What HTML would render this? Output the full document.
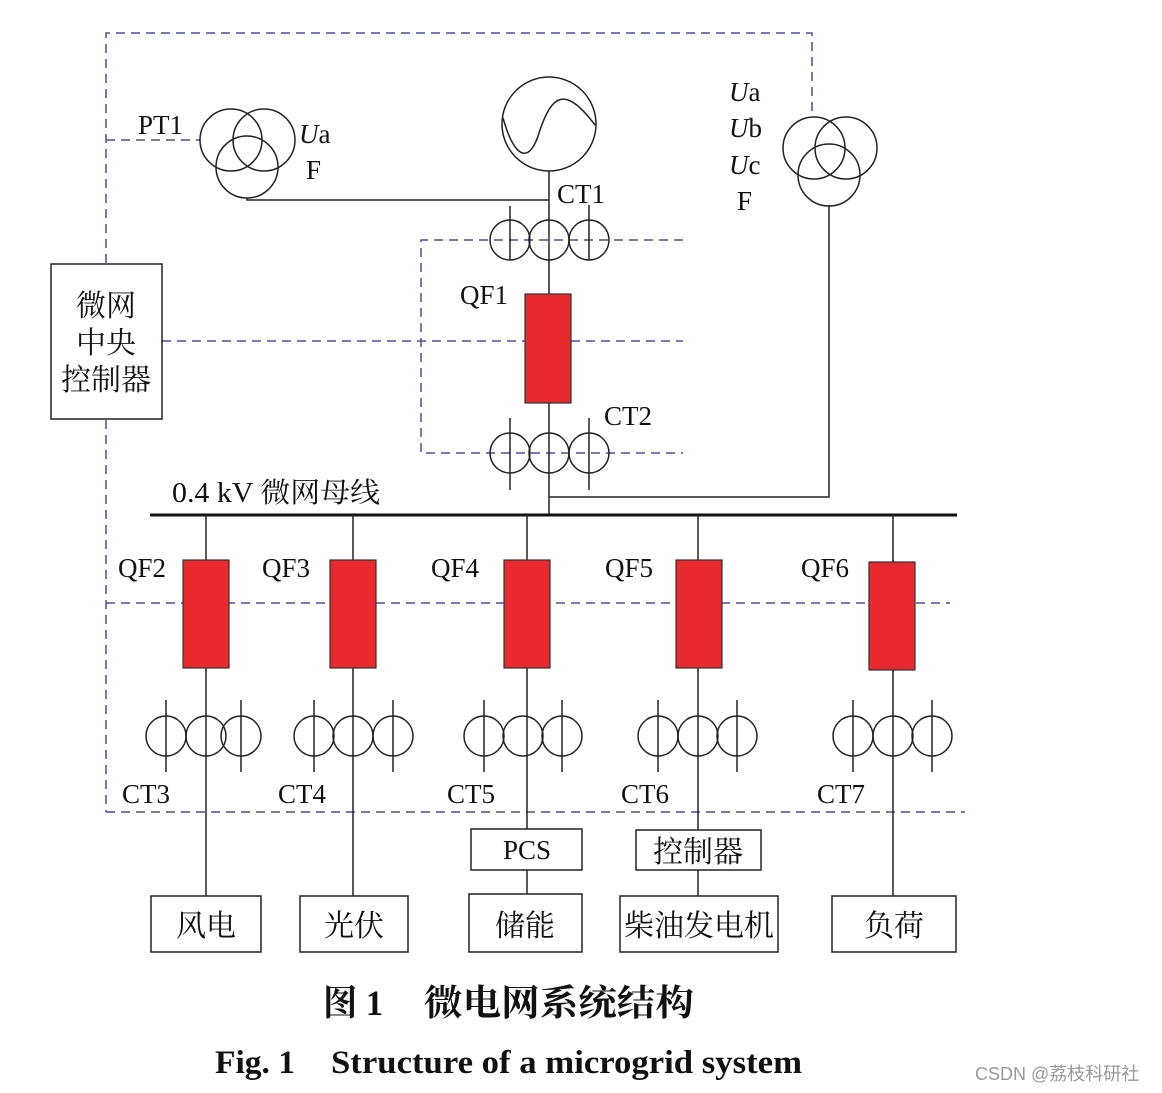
<!DOCTYPE html>
<html><head><meta charset="utf-8"><style>
html,body{margin:0;padding:0;background:#fff;}
svg{display:block;}
text{font-family:"Liberation Serif","Noto Serif CJK SC",serif;fill:#111;}
</style></head><body>
<svg width="1162" height="1093" viewBox="0 0 1162 1093" xmlns="http://www.w3.org/2000/svg">
<g stroke="#4b4ba6" stroke-width="1.5" stroke-dasharray="9,6" fill="none">
<polyline points="106,263 106,33 812,33 812,113"/>
<line x1="106" y1="140" x2="200" y2="140"/>
<line x1="106" y1="420" x2="106" y2="812"/>
<line x1="106" y1="812" x2="965" y2="812"/>
<line x1="106" y1="603" x2="950" y2="603"/>
<line x1="162" y1="341" x2="525" y2="341"/>
<line x1="571" y1="341" x2="683" y2="341"/>
<polyline points="683,240 421,240 421,453 683,453"/>
</g>
<g stroke="#222" stroke-width="1.5" fill="none">
<rect x="51" y="264" width="111" height="155"/>
<circle cx="231" cy="140" r="31"/><circle cx="264" cy="140" r="31"/><circle cx="247" cy="167" r="31"/>
<polyline points="247,198 247,200 549,200"/>
<circle cx="549" cy="124" r="47"/>
<path d="M503,118 C515,160 530,165 540,130 C552,95 565,85 595,125"/>
<line x1="549" y1="171" x2="549" y2="294"/>
<line x1="549" y1="403" x2="549" y2="515"/>
<polyline points="549,497 829,497 829,205"/>
<circle cx="814" cy="148" r="31"/><circle cx="846" cy="148" r="31"/><circle cx="829" cy="175" r="31"/>
<circle cx="510" cy="240" r="20"/><circle cx="549" cy="240" r="20"/><circle cx="589" cy="240" r="20"/>
<line x1="510" y1="206" x2="510" y2="260"/><line x1="589" y1="205" x2="589" y2="260"/>
<circle cx="510" cy="453" r="20"/><circle cx="549" cy="453" r="20"/><circle cx="589" cy="453" r="20"/>
<line x1="510" y1="418" x2="510" y2="490"/><line x1="589" y1="418" x2="589" y2="490"/>
</g>
<line x1="150" y1="515" x2="957" y2="515" stroke="#111" stroke-width="3"/>
<rect x="525" y="294" width="46" height="109" fill="#e8292e" stroke="#333" stroke-width="1.2"/>
<g stroke="#222" stroke-width="1.5" fill="none">
<line x1="206" y1="515" x2="206" y2="896"/>
<line x1="353" y1="515" x2="353" y2="896"/>
<line x1="527" y1="515" x2="527" y2="829"/><line x1="527" y1="870" x2="527" y2="894"/>
<line x1="698" y1="515" x2="698" y2="830"/><line x1="698" y1="870" x2="698" y2="896"/>
<line x1="893" y1="515" x2="893" y2="896"/>
<circle cx="166" cy="736" r="20"/><circle cx="206" cy="736" r="20"/><circle cx="241" cy="736" r="20"/><line x1="166" y1="700" x2="166" y2="772"/><line x1="241" y1="700" x2="241" y2="772"/>
<circle cx="314" cy="736" r="20"/><circle cx="353" cy="736" r="20"/><circle cx="393" cy="736" r="20"/><line x1="314" y1="700" x2="314" y2="772"/><line x1="393" y1="700" x2="393" y2="772"/>
<circle cx="484" cy="736" r="20"/><circle cx="523" cy="736" r="20"/><circle cx="562" cy="736" r="20"/><line x1="484" y1="700" x2="484" y2="772"/><line x1="562" y1="700" x2="562" y2="772"/>
<circle cx="658" cy="736" r="20"/><circle cx="698" cy="736" r="20"/><circle cx="737" cy="736" r="20"/><line x1="658" y1="700" x2="658" y2="772"/><line x1="737" y1="700" x2="737" y2="772"/>
<circle cx="853" cy="736" r="20"/><circle cx="893" cy="736" r="20"/><circle cx="932" cy="736" r="20"/><line x1="853" y1="700" x2="853" y2="772"/><line x1="932" y1="700" x2="932" y2="772"/>
<rect x="151" y="896" width="110" height="56"/>
<rect x="300" y="896" width="108" height="56"/>
<rect x="469" y="894" width="113" height="58"/>
<rect x="620" y="896" width="158" height="56"/>
<rect x="832" y="896" width="124" height="56"/>
<rect x="471" y="829" width="111" height="41"/>
<rect x="636" y="830" width="125" height="40"/>
</g>
<g fill="#e8292e" stroke="#333" stroke-width="1.2">
<rect x="183" y="560" width="46" height="108"/>
<rect x="330" y="560" width="46" height="108"/>
<rect x="504" y="560" width="46" height="108"/>
<rect x="676" y="560" width="46" height="108"/>
<rect x="869" y="562" width="46" height="108"/>
</g>
<g font-size="27">
<text x="106" y="316" text-anchor="middle" font-size="30">微网</text>
<text x="106" y="353" text-anchor="middle" font-size="30">中央</text>
<text x="106" y="390" text-anchor="middle" font-size="30">控制器</text>
<text x="138" y="134">PT1</text>
<text x="299" y="143"><tspan font-style="italic">U</tspan>a</text>
<text x="306" y="179">F</text>
<text x="557" y="203">CT1</text>
<text x="460" y="304">QF1</text>
<text x="604" y="425">CT2</text>
<text x="729" y="101"><tspan font-style="italic">U</tspan>a</text>
<text x="729" y="137"><tspan font-style="italic">U</tspan>b</text>
<text x="729" y="174"><tspan font-style="italic">U</tspan>c</text>
<text x="737" y="210">F</text>
<text x="172" y="502" font-size="28" textLength="208" lengthAdjust="spacingAndGlyphs">0.4 kV 微网母线</text>
<text x="118" y="577">QF2</text><text x="262" y="577">QF3</text><text x="431" y="577">QF4</text><text x="605" y="577">QF5</text><text x="801" y="577">QF6</text>
<text x="122" y="803">CT3</text><text x="278" y="803">CT4</text><text x="447" y="803">CT5</text><text x="621" y="803">CT6</text><text x="817" y="803">CT7</text>
<text x="527" y="859" text-anchor="middle">PCS</text>
<text x="698" y="862" text-anchor="middle" font-size="30">控制器</text>
<text x="206" y="936" text-anchor="middle" font-size="30">风电</text>
<text x="354" y="936" text-anchor="middle" font-size="30">光伏</text>
<text x="525" y="936" text-anchor="middle" font-size="30">储能</text>
<text x="699" y="936" text-anchor="middle" font-size="30">柴油发电机</text>
<text x="894" y="936" text-anchor="middle" font-size="30">负荷</text>
</g>
<text x="323" y="1015" font-size="36" font-weight="bold" textLength="60" lengthAdjust="spacingAndGlyphs">图 1</text>
<text x="424" y="1015" font-size="36" font-weight="bold" textLength="270" lengthAdjust="spacingAndGlyphs">微电网系统结构</text>
<text x="215" y="1073" font-size="33" font-weight="bold" textLength="80" lengthAdjust="spacingAndGlyphs">Fig. 1</text>
<text x="331" y="1073" font-size="33" font-weight="bold" textLength="471" lengthAdjust="spacingAndGlyphs">Structure of a microgrid system</text>
<text x="975" y="1080" font-size="18" style="font-family:'Liberation Sans','Noto Sans CJK SC',sans-serif;fill:#999">CSDN @荔枝科研社</text>
</svg>
</body></html>
